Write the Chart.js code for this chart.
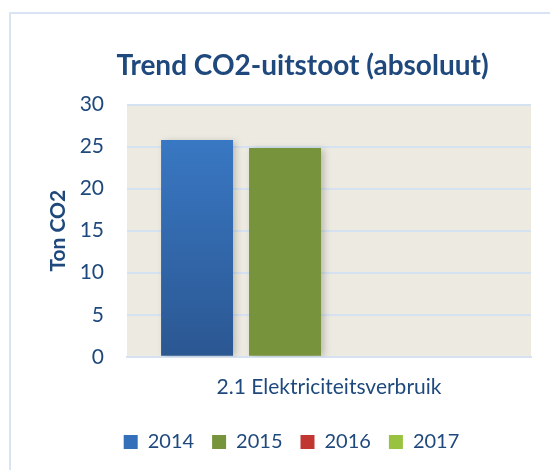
<!DOCTYPE html>
<html>
<head>
<meta charset="utf-8">
<script src="https://cdn.jsdelivr.net/npm/chart.js@4/dist/chart.umd.min.js"></script>
<style>
  html, body { margin: 0; padding: 0; background: #fff; overflow: hidden; }
  #frame { position: absolute; left: 9px; top: 12px; width: 560px; height: 480px;
           border-left: 2px solid #D9E4F3; border-top: 2px solid #D9E4F3; }
  #c { position: absolute; left: 0; top: 0; }
</style>
</head>
<body>
<div id="frame"></div>
<canvas id="c" width="550" height="470"></canvas>
<script>
const categories = ['2.1 Elektriciteitsverbruik'];
const seriesNames = ['2014', '2015', '2016', '2017'];
const values2014 = [25.8];
const values2015 = [24.85];
const values2016 = [0];
const values2017 = [0];
const yTicks = [0, 5, 10, 15, 20, 25, 30];
const legendColors = ['#3470BA', '#77933C', '#C23631', '#98C23F'];

const txt = '#1F497D';
const font = 'Lato, "Open Sans", sans-serif';

function grad(top, bottom) {
  return function(ctx) {
    const ca = ctx.chart.chartArea;
    if (!ca) return top;
    const g = ctx.chart.ctx.createLinearGradient(0, ca.top, 0, ca.bottom);
    g.addColorStop(0, top);
    g.addColorStop(1, bottom);
    return g;
  };
}

const bgPlugin = {
  id: 'plotBg',
  beforeDraw(chart) {
    const {ctx, chartArea: a} = chart;
    ctx.save();
    ctx.fillStyle = '#EDEBE1';
    ctx.fillRect(a.left, a.top, a.right - a.left, a.bottom - a.top);
    ctx.restore();
  },
  beforeDatasetsDraw(chart) {
    const ctx = chart.ctx;
    ctx.save();
    ctx.shadowColor = 'rgba(0,0,0,0.22)';
    ctx.shadowBlur = 7;
    ctx.shadowOffsetX = 3;
    ctx.shadowOffsetY = 1;
  },
  afterDatasetsDraw(chart) {
    chart.ctx.restore();
  },
  afterLayout(chart) {
    const t = chart.titleBlock, l = chart.legend;
    if (t) { t.left += 19; t.right += 19; }
    if (l) { l.left += 8; l.right += 8; }
  }
};

new Chart(document.getElementById('c'), {
  type: 'bar',
  data: {
    labels: categories,
    datasets: [
      { label: seriesNames[0], data: values2014, backgroundColor: grad('#3B7DCB', '#2B5792') },
      { label: seriesNames[1], data: values2015, backgroundColor: '#77933C' },
      { label: seriesNames[2], data: values2016, backgroundColor: grad('#D43F3A', '#9E2B2B') },
      { label: seriesNames[3], data: values2017, backgroundColor: grad('#A2CB45', '#8AB33A') }
    ]
  },
  options: {
    responsive: false,
    devicePixelRatio: 1,
    animation: false,
    categoryPercentage: 0.871,
    barPercentage: 0.818,
    layout: { padding: { left: 36, right: 19, top: 0, bottom: 8 } },
    plugins: {
      title: {
        display: true,
        text: 'Trend CO2-uitstoot (absoluut)',
        color: txt,
        font: { family: font, size: 28, weight: 'bold' },
        padding: { top: 49, bottom: 22 }
      },
      legend: {
        display: true,
        position: 'bottom',
        labels: {
          color: txt,
          font: { family: font, size: 20 },
          boxWidth: 14,
          boxHeight: 14,
          padding: 18,
          generateLabels(chart) {
            const items = Chart.defaults.plugins.legend.labels.generateLabels(chart);
            items.forEach((it, i) => { it.fillStyle = legendColors[i]; it.strokeStyle = legendColors[i]; it.lineWidth = 0; });
            return items;
          }
        }
      },
      tooltip: { enabled: false }
    },
    scales: {
      x: {
        afterFit(scale) { scale.height += 4; },
        grid: { display: false },
        border: { display: true, color: '#D6E2F2', width: 2 },
        ticks: { color: txt, font: { family: font, size: 21 }, padding: 10 }
      },
      y: {
        min: 0,
        max: 30,
        afterBuildTicks(scale) { scale.ticks = yTicks.map(v => ({ value: v })); },
        afterFit(scale) { scale.width = 91; },
        grid: { color: '#D6E2F2', lineWidth: 2, drawTicks: false },
        border: { display: false },
        ticks: { color: txt, font: { family: font, size: 21 }, padding: 23 },
        title: {
          display: true,
          text: 'Ton CO2',
          color: txt,
          font: { family: font, size: 21, weight: 'bold' },
          padding: { top: 10, bottom: 0 }
        }
      }
    }
  },
  plugins: [bgPlugin]
});
</script>
</body>
</html>
